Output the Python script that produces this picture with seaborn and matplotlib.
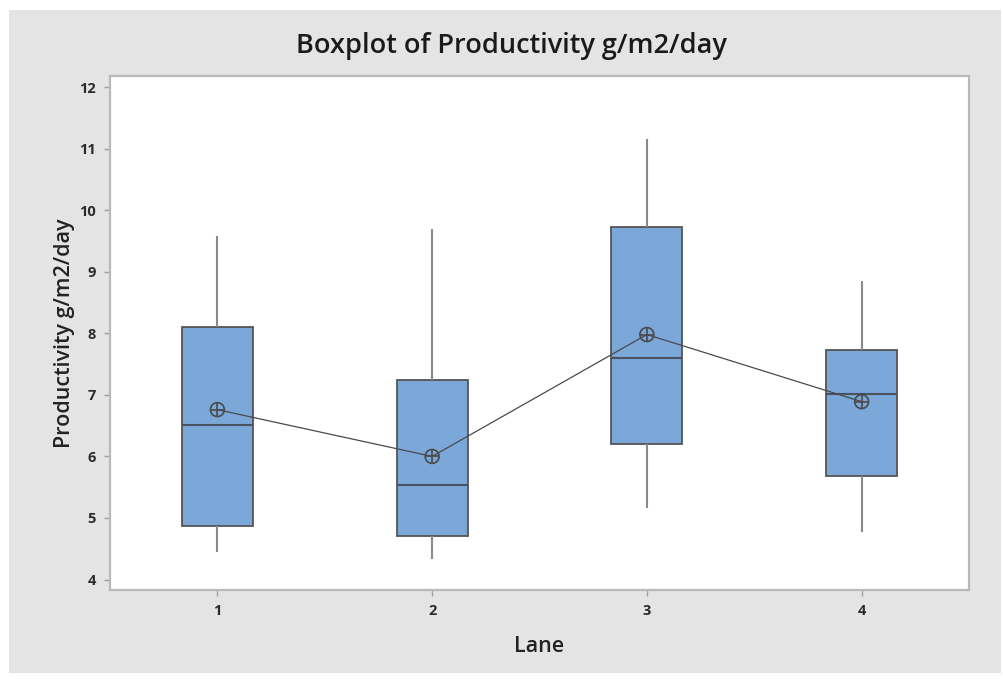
import numpy as np
import pandas as pd
import matplotlib
matplotlib.use("Agg")
import matplotlib.pyplot as plt
from matplotlib.patches import Rectangle
import seaborn as sns

# Five-number summary and mean of productivity for each lane
lanes = ["1", "2", "3", "4"]
lane_min = [4.44, 4.33, 5.17, 4.78]
lane_q1 = [4.87, 4.70, 6.20, 5.69]
lane_median = [6.51, 5.54, 7.60, 7.01]
lane_q3 = [8.11, 7.24, 9.73, 7.73]
lane_max = [9.58, 9.69, 11.15, 8.85]
lane_mean = [6.76, 6.00, 7.98, 6.89]

yticks = [4, 5, 6, 7, 8, 9, 10, 11, 12]

rows = []
for i, lane in enumerate(lanes):
    for v in (lane_min[i], lane_q1[i], lane_median[i], lane_q3[i], lane_max[i]):
        rows.append({"Lane": lane, "Productivity": v})
df = pd.DataFrame(rows)
means = pd.DataFrame({"Lane": lanes, "Mean": lane_mean})

sns.set_theme(style="white")
plt.rcParams["font.family"] = ["Open Sans", "DejaVu Sans"]

BOX_FILL = "#7BA7D9"
EDGE = "#555555"
PANEL = "#E4E4E4"

fig = plt.figure(figsize=(10.04, 6.79), dpi=100)
fig.patch.set_facecolor("white")
fig.patches.append(Rectangle((9 / 1004, 1 - 673 / 679), (1001 - 9) / 1004, (673 - 10) / 679,
                             transform=fig.transFigure, facecolor=PANEL,
                             edgecolor="none", zorder=-10))

ax = fig.add_axes([110 / 1004, 1 - 590 / 679, (969 - 110) / 1004, (590 - 76) / 679])
ax.set_facecolor("white")

sns.boxplot(data=df, x="Lane", y="Productivity", order=lanes, whis=np.inf,
            width=0.33, color=BOX_FILL, saturation=1, showcaps=False,
            linewidth=1.3, linecolor=EDGE,
            whiskerprops=dict(color="#8a8a8a", linewidth=1.5),
            medianprops=dict(color="#4a5260", linewidth=1.5),
            boxprops=dict(edgecolor=EDGE, linewidth=1.3),
            ax=ax)

# Connected means with circled-plus symbols
sns.lineplot(data=means, x="Lane", y="Mean", color="#4a4a4a", linewidth=0.9,
             ax=ax, zorder=4)
sns.scatterplot(data=means, x="Lane", y="Mean", marker="o", s=100,
                facecolor="none", edgecolor="#4a4a4a", linewidth=1.2,
                ax=ax, zorder=5)
sns.scatterplot(data=means, x="Lane", y="Mean", marker="+", s=100,
                color="#4a4a4a", linewidth=1.2, ax=ax, zorder=6)

ax.set_xlim(-0.5, 3.5)
ax.set_ylim(3.83, 12.18)
ax.set_yticks(yticks)
ax.set_yticklabels([str(t) for t in yticks])

for side in ("left", "right", "top", "bottom"):
    ax.spines[side].set_visible(True)
    ax.spines[side].set_color("#b9b9b9")
    ax.spines[side].set_linewidth(1.6)

ax.tick_params(axis="both", which="major", direction="out", length=4, width=1,
               color="#a0a0a0", labelcolor="#2b2b2b", labelsize=10.5, pad=6,
               left=True, bottom=True)
for lbl in ax.get_xticklabels() + ax.get_yticklabels():
    lbl.set_fontweight("bold")

ax.set_xlabel("Lane", fontsize=15.5, fontweight="semibold", color="#222222", labelpad=13)
ax.set_ylabel("Productivity g/m2/day", fontsize=15.5, fontweight="semibold",
              color="#222222", labelpad=3)

fig.text(511 / 1004, 1 - 46 / 679, "Boxplot of Productivity g/m2/day",
         ha="center", va="center", fontsize=19.5, fontweight="semibold",
         color="#1a1a1a")

fig.savefig("out.png", dpi=100, facecolor=fig.get_facecolor())
